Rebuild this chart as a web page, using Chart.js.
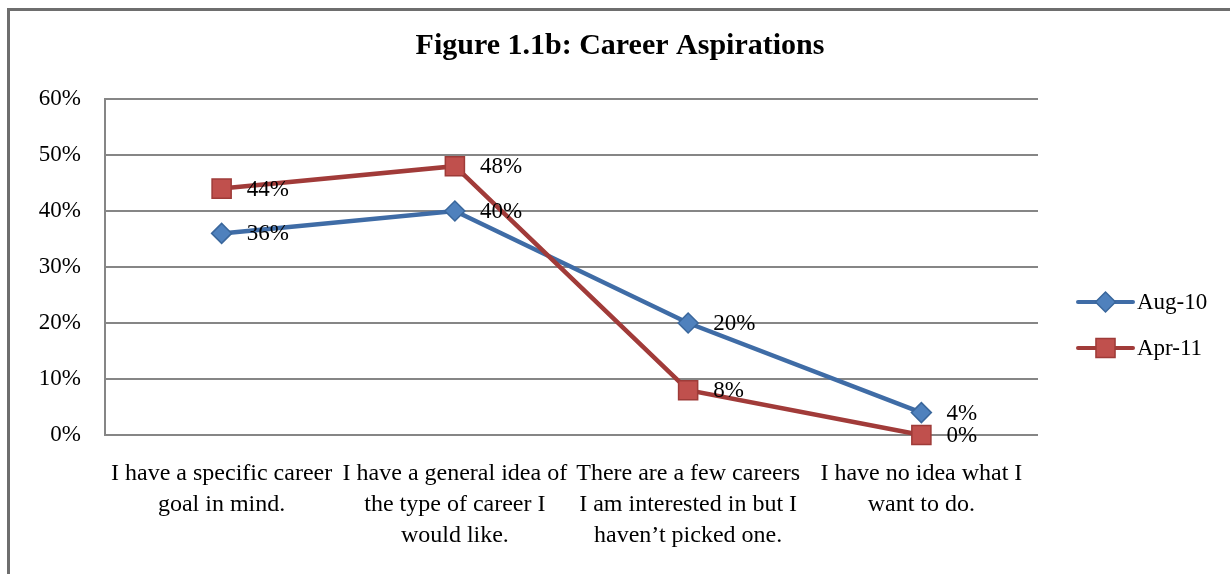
<!DOCTYPE html>
<html>
<head>
<meta charset="utf-8">
<script src="https://cdn.jsdelivr.net/npm/chart.js@4"></script>
<style>
  html, body { margin: 0; padding: 0; background: #fff; overflow: hidden; }
  #wrap { position: relative; width: 1230px; height: 574px; }
  #frame {
    position: absolute; left: 7px; top: 8px; width: 1300px; height: 600px;
    border-left: 3px solid #6e6e6e; border-top: 3px solid #6e6e6e;
    pointer-events: none;
  }
</style>
</head>
<body>
<div id="wrap">
  <canvas id="chart" width="1230" height="574"></canvas>
  <div id="frame"></div>
</div>
<script>
// Chart values
var categories = [
  ['I have a specific career', 'goal in mind.'],
  ['I have a general idea of', 'the type of career I', 'would like.'],
  ['There are a few careers', 'I am interested in but I', 'haven\u2019t picked one.'],
  ['I have no idea what I', 'want to do.']
];
var seriesNames = ['Aug-10', 'Apr-11'];
var aug10 = [36, 40, 20, 4];
var apr11 = [44, 48, 8, 0];
var yTicks = [0, 10, 20, 30, 40, 50, 60];
var chartTitle = 'Figure 1.1b: Career Aspirations';

var serif = "'Liberation Serif', 'DejaVu Serif', serif";

// draw a marker in the style of a dataset
function drawMarker(ctx, ds, x, y) {
  ctx.save();
  ctx.fillStyle = ds.pointBackgroundColor;
  ctx.strokeStyle = ds.pointBorderColor;
  ctx.lineWidth = ds.pointBorderWidth;
  ctx.beginPath();
  if (ds.pointStyle === 'rectRot') {
    var r = ds.pointRadius;
    ctx.moveTo(x - r, y);
    ctx.lineTo(x, y - r);
    ctx.lineTo(x + r, y);
    ctx.lineTo(x, y + r);
    ctx.closePath();
  } else {
    var s = ds.pointRadius * Math.SQRT1_2;
    ctx.rect(x - s, y - s, 2 * s, 2 * s);
  }
  ctx.fill();
  ctx.stroke();
  ctx.restore();
}

// title, value labels and legend
var extras = {
  id: 'extras',
  afterDatasetsDraw: function(chart) {
    var ctx = chart.ctx;
    ctx.save();
    ctx.font = '23px ' + serif;
    ctx.fillStyle = '#000';
    ctx.textAlign = 'left';
    ctx.textBaseline = 'middle';
    chart.data.datasets.forEach(function(ds, i) {
      var meta = chart.getDatasetMeta(i);
      meta.data.forEach(function(pt, j) {
        ctx.fillText(ds.data[j] + '%', pt.x + 25, pt.y + 1);
      });
    });
    ctx.restore();
  },
  afterDraw: function(chart) {
    var ctx = chart.ctx;
    ctx.save();
    ctx.font = 'bold 30px ' + serif;
    ctx.fillStyle = '#000';
    ctx.textAlign = 'center';
    ctx.textBaseline = 'middle';
    ctx.fillText(chartTitle, 620, 46);

    var x0 = 1078, x1 = 1133, top = 302, gap = 46;
    chart.data.datasets.forEach(function(ds, k) {
      var y = top + k * gap;
      ctx.strokeStyle = ds.borderColor;
      ctx.lineWidth = 4;
      ctx.lineCap = 'round';
      ctx.beginPath();
      ctx.moveTo(x0, y);
      ctx.lineTo(x1, y);
      ctx.stroke();
      drawMarker(ctx, ds, (x0 + x1) / 2, y);
      ctx.font = '23px ' + serif;
      ctx.fillStyle = '#000';
      ctx.textAlign = 'left';
      ctx.textBaseline = 'middle';
      ctx.fillText(ds.label, x1 + 4, y + 1);
    });
    ctx.restore();
  }
};

var ctx = document.getElementById('chart').getContext('2d');
var chart = new Chart(ctx, {
  type: 'line',
  data: {
    labels: categories,
    datasets: [
      {
        label: seriesNames[0],
        data: aug10,
        borderColor: '#3F6CA6',
        borderWidth: 4.5,
        pointStyle: 'rectRot',
        pointRadius: 10,
        pointBackgroundColor: '#4F81BD',
        pointBorderColor: '#3A679C',
        pointBorderWidth: 1.5,
        tension: 0,
        clip: false,
        order: 1
      },
      {
        label: seriesNames[1],
        data: apr11,
        borderColor: '#A13B39',
        borderWidth: 4.5,
        pointStyle: 'rect',
        pointRadius: 13.5,
        pointBackgroundColor: '#C0504D',
        pointBorderColor: '#9E3B38',
        pointBorderWidth: 1.5,
        tension: 0,
        clip: false,
        order: 0
      }
    ]
  },
  options: {
    responsive: false,
    animation: false,
    layout: { padding: { left: 0, right: 192, top: 99, bottom: 0 } },
    plugins: {
      legend: { display: false },
      tooltip: { enabled: false },
      title: { display: false }
    },
    scales: {
      x: {
        offset: true,
        grid: { display: false, drawTicks: false, offset: true },
        border: { display: false },
        ticks: {
          color: '#000',
          font: { family: serif, size: 24, lineHeight: 1.29 },
          padding: 23,
          maxRotation: 0,
          minRotation: 0,
          autoSkip: false
        },
        afterFit: function(scale) { scale.height = 139; }
      },
      y: {
        min: yTicks[0],
        max: yTicks[yTicks.length - 1],
        grid: { color: '#868686', lineWidth: 2, drawTicks: false },
        border: { display: true, color: '#868686', width: 2 },
        ticks: {
          stepSize: 10,
          color: '#000',
          font: { family: serif, size: 23 },
          padding: 24,
          callback: function(v) { return v + '%'; }
        },
        afterFit: function(scale) { scale.width = 105; }
      }
    }
  },
  plugins: [extras]
});
</script>
</body>
</html>
